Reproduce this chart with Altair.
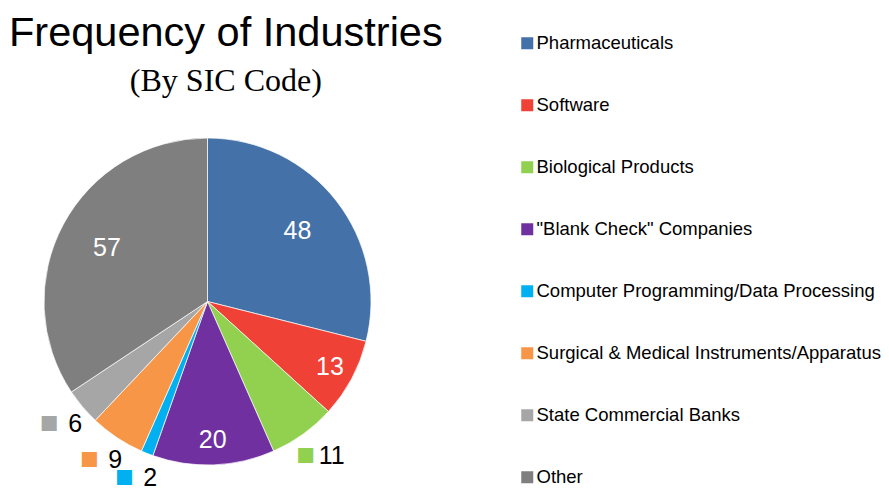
import altair as alt
import pandas as pd

industries = [
    "Pharmaceuticals",
    "Software",
    "Biological Products",
    "\"Blank Check\" Companies",
    "Computer Programming/Data Processing",
    "Surgical & Medical Instruments/Apparatus",
    "State Commercial Banks",
    "Other",
]
counts = [48, 13, 11, 20, 2, 9, 6, 57]
colors = ["#4472A8", "#EF4136", "#92D050", "#7030A0", "#00B0F0", "#F79646", "#A6A6A6", "#7F7F7F"]
label_place = ["in", "in2", "out", "in2", "out", "out", "out", "in"]

df = pd.DataFrame({
    "industry": industries,
    "count": counts,
    "idx": list(range(len(industries))),
    "place": label_place,
})
total = sum(counts)

SANS = "Liberation Sans"

color = alt.Color(
    "industry:N",
    scale=alt.Scale(domain=industries, range=colors),
    sort=industries,
    legend=alt.Legend(
        title=None, orient="none", legendX=474, legendY=-104,
        symbolType="square", symbolSize=144, symbolStrokeWidth=0,
        labelFont=SANS, labelFontSize=18.5, labelColor="#000000",
        labelOffset=0, rowPadding=43, labelLimit=600, padding=0,
    ),
)

base = alt.Chart(df).transform_window(
    end="sum(count)", sort=[alt.SortField("idx")], frame=[None, 0]
).transform_calculate(
    start="datum.end - datum.count", mid="datum.end - datum.count / 2"
)

theta_scale = alt.Scale(domain=[0, total], range=[0, 6.283185307179586])

arcs = base.mark_arc(stroke="white", strokeWidth=0.7).encode(
    theta=alt.Theta("start:Q", scale=theta_scale),
    theta2="end:Q",
    color=color,
    order=alt.Order("idx:Q"),
)

lab_in = base.transform_filter("datum.place == 'in'").mark_text(
    radius=114, font=SANS, fontSize=25, color="white"
).encode(theta=alt.Theta("mid:Q", scale=theta_scale), text="count:Q")

lab_in2 = base.transform_filter("datum.place == 'in2'").mark_text(
    radius=139, font=SANS, fontSize=25, color="white"
).encode(theta=alt.Theta("mid:Q", scale=theta_scale), text="count:Q")

lab_out = base.transform_filter("datum.place == 'out'").mark_text(
    radius=190, font=SANS, fontSize=25, color="black", dx=13
).encode(theta=alt.Theta("mid:Q", scale=theta_scale), text="count:Q")

sq_out = base.transform_filter("datum.place == 'out'").mark_text(
    radius=190, font=SANS, fontSize=31, dx=-13, baseline="middle", text="■"
).encode(theta=alt.Theta("mid:Q", scale=theta_scale), color=color)

chart = alt.layer(arcs, lab_in, lab_in2, lab_out, sq_out).properties(
    width=327, height=327,
    padding={"left": 36, "top": 130, "right": 510, "bottom": 23},
    autosize=alt.AutoSizeParams(type="none"),
    title=alt.TitleParams(
        text="Frequency of Industries",
        subtitle="(By SIC Code)",
        anchor="start", align="center", dx=186,
        font=SANS, fontSize=41.5, fontWeight="normal", color="#000000",
        subtitleFont="Liberation Serif", subtitleFontSize=32, subtitleColor="#000000",
        subtitlePadding=12, offset=-63,
    ),
).configure_view(stroke=None)

chart.save("out.html", embed_options={"renderer": "svg", "actions": False})
